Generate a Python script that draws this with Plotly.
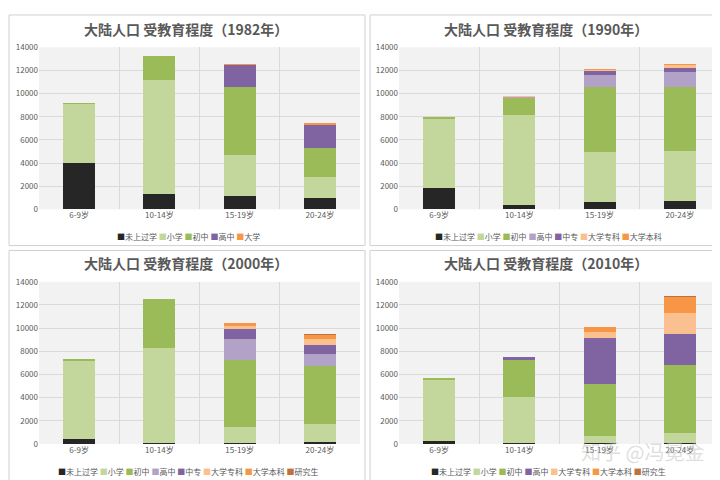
import plotly.graph_objects as go

# ---------------- data (万人) ----------------
age_groups = ["6-9岁", "10-14岁", "15-19岁", "20-24岁"]
y_ticks = [0, 2000, 4000, 6000, 8000, 10000, 12000, 14000]

# 1982
s1982_names = ["未上过学", "小学", "初中", "高中", "大学"]
s1982_wsx = [4000, 1350, 1180, 1010]
s1982_xx = [5100, 9830, 3550, 1800]
s1982_cz = [30, 2060, 5800, 2450]
s1982_gz = [0, 0, 1950, 2080]
s1982_dx = [0, 0, 30, 60]

# 1990
s1990_names = ["未上过学", "小学", "初中", "高中", "中专", "大学专科", "大学本科"]
s1990_wsx = [1890, 390, 620, 760]
s1990_xx = [5940, 7750, 4310, 4310]
s1990_cz = [110, 1520, 5630, 5490]
s1990_gz = [0, 30, 1070, 1270]
s1990_zz = [0, 0, 310, 370]
s1990_zk = [0, 70, 110, 250]
s1990_bk = [0, 0, 30, 80]

# 2000
s2000_names = ["未上过学", "小学", "初中", "高中", "中专", "大学专科", "大学本科", "研究生"]
s2000_wsx = [420, 110, 110, 170]
s2000_xx = [6820, 8140, 1380, 1580]
s2000_cz = [80, 4280, 5750, 5010]
s2000_gz = [0, 0, 1850, 990]
s2000_zz = [0, 0, 860, 820]
s2000_zk = [0, 0, 300, 450]
s2000_bk = [0, 0, 150, 420]
s2000_yjs = [0, 0, 0, 20]

# 2010
s2010_names = ["未上过学", "小学", "初中", "高中", "大学专科", "大学本科", "研究生"]
s2010_wsx = [230, 90, 90, 90]
s2010_xx = [5350, 3940, 560, 810]
s2010_cz = [80, 3290, 4560, 5940]
s2010_gz = [0, 150, 3940, 2640]
s2010_zk = [0, 0, 540, 1800]
s2010_bk = [0, 0, 360, 1430]
s2010_yjs = [0, 0, 0, 50]

titles = ["大陆人口 受教育程度（1982年）", "大陆人口 受教育程度（1990年）",
          "大陆人口 受教育程度（2000年）", "大陆人口 受教育程度（2010年）"]

# ---------------- styles ----------------
C_BLACK = "#262626"
C_XX = "#c3d69b"
C_CZ = "#9bbb59"
C_GZ_L = "#b3a2c7"
C_PURPLE = "#8064a2"
C_ZK = "#fac090"
C_BK = "#f79646"
C_YJS = "#c0703c"

panels = [
    (s1982_names, [s1982_wsx, s1982_xx, s1982_cz, s1982_gz, s1982_dx],
     [C_BLACK, C_XX, C_CZ, C_PURPLE, C_BK]),
    (s1990_names, [s1990_wsx, s1990_xx, s1990_cz, s1990_gz, s1990_zz, s1990_zk, s1990_bk],
     [C_BLACK, C_XX, C_CZ, C_GZ_L, C_PURPLE, C_ZK, C_BK]),
    (s2000_names, [s2000_wsx, s2000_xx, s2000_cz, s2000_gz, s2000_zz, s2000_zk, s2000_bk, s2000_yjs],
     [C_BLACK, C_XX, C_CZ, C_GZ_L, C_PURPLE, C_ZK, C_BK, C_YJS]),
    (s2010_names, [s2010_wsx, s2010_xx, s2010_cz, s2010_gz, s2010_zk, s2010_bk, s2010_yjs],
     [C_BLACK, C_XX, C_CZ, C_PURPLE, C_ZK, C_BK, C_YJS]),
]

W, H = 720, 480
offsets = [(0, 0), (360, 0), (0, 240), (360, 240)]
FONT = "Noto Sans CJK SC"
GRAY = "#595959"

fig = go.Figure()
layout = dict(
    width=W, height=H, margin=dict(l=0, r=0, t=0, b=0),
    paper_bgcolor="white", plot_bgcolor="#f2f2f2",
    barmode="stack", bargap=0.6, showlegend=False,
    font=dict(family=FONT, color=GRAY),
)
annotations = []
shapes = []

for i, ((names, series, colors), (ox, oy)) in enumerate(zip(panels, offsets)):
    k = "" if i == 0 else str(i + 1)
    xa, ya = "x" + k, "y" + k
    for name, vals, col in zip(names, series, colors):
        fig.add_trace(go.Bar(x=age_groups, y=vals, name=name, marker=dict(color=col, line=dict(width=0)),
                             xaxis=xa, yaxis=ya))
    layout["xaxis" + k] = dict(
        domain=[(ox + 31) / W, (ox + 352) / W], anchor=ya, type="category",
        range=[-0.5, 3.5], tickson="boundaries", showgrid=True, gridcolor="#dadada", gridwidth=1,
        ticks="", showline=False, zeroline=False,
        tickfont=dict(size=8, color=GRAY, family=FONT), fixedrange=True,
    )
    layout["yaxis" + k] = dict(
        domain=[1 - (oy + 200) / H, 1 - (oy + 34) / H], anchor=xa,
        range=[0, 14000], tickvals=y_ticks, tickformat="d", showgrid=True,
        gridcolor="#dadada", gridwidth=1, zeroline=False, showline=False, ticks="",
        tickfont=dict(size=8, color=GRAY, family=FONT), fixedrange=True,
    )
    # title
    annotations.append(dict(
        text="<b>" + titles[i] + "</b>", xref="paper", yref="paper",
        x=(ox + 178) / W, y=1 - (oy + 15) / H, xanchor="center", yanchor="middle",
        showarrow=False, font=dict(size=14, color=GRAY, family=FONT)))
    # legend as a text row
    parts = ["<span style='color:%s'>■</span>%s" % (c, n) for n, c in zip(names, colors)]
    annotations.append(dict(
        text=" ".join(parts), xref="paper", yref="paper",
        x=(ox + 180) / W, y=1 - (oy + 228) / H, xanchor="center", yanchor="middle",
        showarrow=False, font=dict(size=8, color=GRAY, family=FONT)))
    # panel frame
    x0 = ox + (1 if ox == 0 else 2)
    x1 = ox + (357 if ox == 0 else 359)
    y0 = oy + (1 if oy == 0 else 2)
    y1 = oy + (237 if oy == 0 else 479)
    shapes.append(dict(type="rect", xref="paper", yref="paper",
                       x0=x0 / W, x1=x1 / W, y0=1 - y0 / H, y1=1 - y1 / H,
                       line=dict(color="#d0d0d0", width=1), fillcolor="rgba(0,0,0,0)", layer="below"))

# watermark
annotations.append(dict(
    text="知乎 @冯冕金", xref="paper", yref="paper", x=634 / W, y=1 - 448 / H,
    xanchor="center", yanchor="middle", showarrow=False,
    font=dict(size=20, color="rgba(190,190,190,0.5)", family=FONT)))

layout["annotations"] = annotations
layout["shapes"] = shapes
fig.update_layout(**layout)
fig.write_html("out.html")
